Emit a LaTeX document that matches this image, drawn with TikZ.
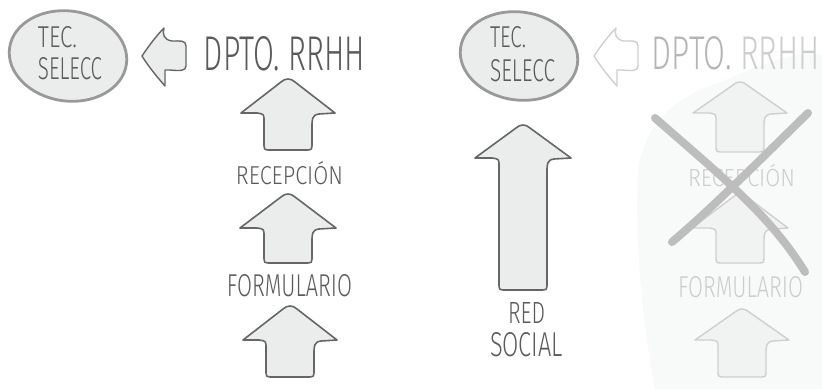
\documentclass[tikz,border=0pt]{standalone}
\usepackage{fontspec}
\setmainfont{Fira Sans Light}
\usepackage{graphicx}
\definecolor{txt}{HTML}{5A5A5A}
\definecolor{arrstroke}{HTML}{666666}
\definecolor{arrfill}{HTML}{EBECEC}
\definecolor{ellstroke}{HTML}{999999}
\definecolor{fadetxt}{HTML}{CDCDCD}
\definecolor{fadetxtA}{HTML}{B5B5B5}
\definecolor{fadestroke}{HTML}{CFCFCF}
\definecolor{fadefill}{HTML}{F1F2F2}
\definecolor{brush}{HTML}{F8F9F9}
\definecolor{cross}{HTML}{BDBDBD}
\newcommand\fitt[3]{\resizebox{#1pt}{#2pt}{#3}}
\newcommand\uparr[7]{%
 \draw[#1] ({#2-7},{#3+4}) .. controls ({#2-3},{#3}) and ({#2+3},{#3}) .. ({#2+7},{#3+4})
 -- ({#2+#4},{#5})
 -- ({#2+#6+7},{#5+1}) .. controls ({#2+#6},{#5+2}) and ({#2+#6},{#5+6}) .. ({#2+#6},{#5+14})
 -- ({#2+#6},{#7-7}) .. controls ({#2+#6},{#7}) .. ({#2+#6-7},{#7})
 -- ({#2-#6+7},{#7}) .. controls ({#2-#6},{#7}) .. ({#2-#6},{#7-7})
 -- ({#2-#6},{#5+8}) .. controls ({#2-#6},{#5+1}) .. ({#2-#6-7},{#5})
 -- ({#2-#4},{#5}) -- cycle;}
\newcommand\hookarr[2]{%
 \begin{scope}[xshift=#2pt]
 \draw[#1] (142,56) .. controls (150,44) and (158,34) .. (164,28)
   .. controls (162,34) and (164,40) .. (172,41)
   .. controls (180,41) and (186,40) .. (186,46) -- (186,66)
   .. controls (186,71) and (180,71) .. (170,70) -- (165,70) -- (165,86)
   .. controls (158,78) and (148,66) .. (142,56) -- cycle;
 \end{scope}}
\begin{document}
\begin{tikzpicture}[x=1pt,y=-1pt,
  lbl/.style={inner sep=0pt,text=txt},
  flbl/.style={inner sep=0pt,text=fadetxt},
  arr/.style={draw=arrstroke,fill=arrfill,line width=1.6pt,line join=round},
  farr/.style={draw=fadestroke,fill=fadefill,line width=1.4pt,line join=round},
  ell/.style={draw=ellstroke,fill=arrfill,line width=2.8pt},
  hk/.style={draw=arrstroke,fill=arrfill,line width=1.4pt,line join=round},
  fhk/.style={draw=fadestroke,fill=white,line width=1.4pt,line join=round},
  xline/.style={draw=cross,line width=8pt,line cap=round}]
\useasboundingbox (0,0) rectangle (822,389);
% left group
\draw[ell,rotate around={-8:(68,56)}] (68,56) ellipse [x radius=59, y radius=45];
\node[lbl] (tec1) at (57.5,37.5) {\fitt{39}{21}{TEC.}};
\node[lbl] (sel1) at (70,69) {\fitt{64}{22}{SELECC}};
\hookarr{hk}{0}
\node[lbl] (dpto1) at (284.5,54) {\fitt{161}{34}{DPTO. RRHH}};
\uparr{arr}{288}{78}{47}{113}{24}{150}
\node[lbl] (rec1) at (289.5,173.5) {\fitt{107}{23}{RECEPCIÓN}};
\uparr{arr}{288}{193}{48}{228}{24}{263}
\node[lbl] (form1) at (289.5,286) {\fitt{125}{22}{FORMULARIO}};
\uparr{arr}{290}{305}{47}{340}{24}{377}
% middle group
\draw[ell,rotate around={-8:(519,56)}] (519,56) ellipse [x radius=59, y radius=44];
\node[lbl] (tec2) at (508,37.5) {\fitt{36}{21}{TEC.}};
\node[lbl] (sel2) at (522.5,71) {\fitt{65}{22}{SELECC}};
\uparr{arr}{523}{124}{48}{158}{24}{290}
\node[lbl] (red) at (526.5,312.5) {\fitt{37}{21}{RED}};
\node[lbl] (soc) at (526.5,345) {\fitt{73}{24}{SOCIAL}};
% faded group
\fill[brush] (638,170) .. controls (645,120) and (680,95) .. (720,82)
  .. controls (750,70) and (790,50) .. (822,55) -- (822,389) -- (655,389)
  .. controls (645,330) and (634,260) .. (638,170) -- cycle;
\hookarr{fhk}{452}
\node[inner sep=0pt] (dpto2) at (736,53.5) {\fitt{168}{33}{\textcolor{fadetxtA}{DPTO.} \textcolor{fadetxt}{RRHH}}};
\uparr{farr}{740}{81}{47}{113}{24}{152}
\node[flbl] (rec2) at (741.5,176) {\fitt{107}{22}{RECEPCIÓN}};
\uparr{farr}{740}{193}{48}{228}{24}{263}
\node[flbl] (form2) at (740.5,287.5) {\fitt{125}{21}{FORMULARIO}};
\uparr{farr}{742}{308}{47}{340}{24}{377}
\draw[xline] (655,118) .. controls (720,175) and (770,215) .. (805,272);
\draw[xline] (808,113) .. controls (760,160) and (710,210) .. (672,242);
\end{tikzpicture}
\end{document}
